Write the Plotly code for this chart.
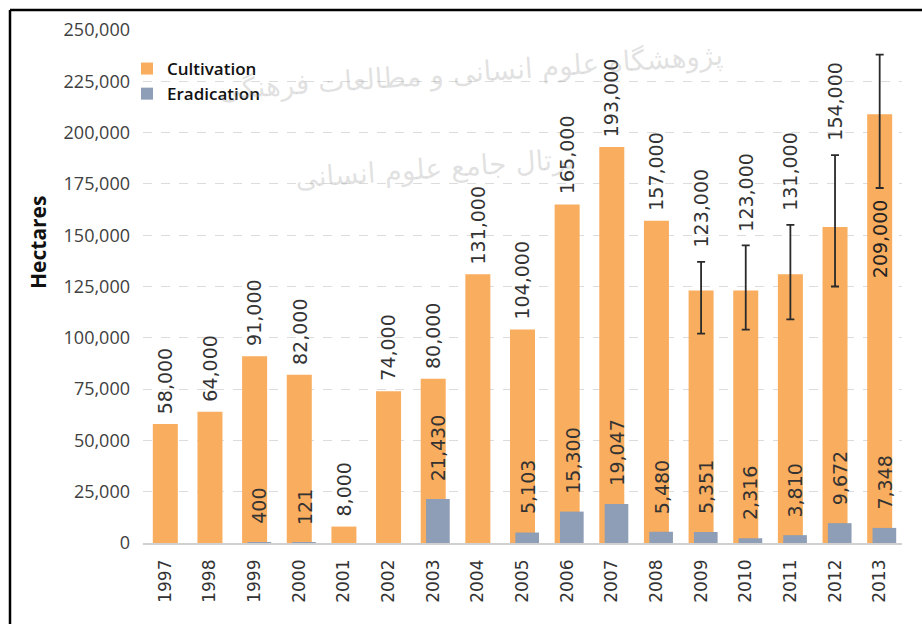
import plotly.graph_objects as go

years = ["1997", "1998", "1999", "2000", "2001", "2002", "2003", "2004", "2005",
         "2006", "2007", "2008", "2009", "2010", "2011", "2012", "2013"]
cultivation = [58000, 64000, 91000, 82000, 8000, 74000, 80000, 131000, 104000,
               165000, 193000, 157000, 123000, 123000, 131000, 154000, 209000]
eradication = [None, None, 400, 121, None, None, 21430, None, 5103,
               15300, 19047, 5480, 5351, 2316, 3810, 9672, 7348]
range_years = ["2009", "2010", "2011", "2012", "2013"]
range_low = [102000, 104000, 109000, 125000, 173000]
range_high = [137000, 145000, 155000, 189000, 238000]
y_ticks = [0, 25000, 50000, 75000, 100000, 125000, 150000, 175000, 200000, 225000, 250000]

ORANGE = "#F9AD5E"
GREY = "#8E9EB6"
W, H = 922, 624
ML, MR, MT, MB = 143, 20, 30, 81
YMAX = 250000

fig = go.Figure()
fig.add_trace(go.Bar(x=years, y=cultivation, name="Cultivation",
                     marker=dict(color=ORANGE, line=dict(width=0)),
                     width=0.56, offset=-0.28))
fig.add_trace(go.Bar(x=years, y=eradication, name="Eradication",
                     marker=dict(color=GREY, line=dict(width=0)),
                     width=0.53, offset=-0.16))

# error bars (range) only for the years that have them
cult_map = dict(zip(years, cultivation))
rv = [cult_map[y] for y in range_years]
fig.add_trace(go.Scatter(
    x=range_years, y=rv, mode="markers", showlegend=False, hoverinfo="skip",
    marker=dict(size=1, color="rgba(0,0,0,0)"),
    error_y=dict(type="data", symmetric=False,
                 array=[h - v for h, v in zip(range_high, rv)],
                 arrayminus=[v - l for v, l in zip(rv, range_low)],
                 color="#2a2a2a", thickness=1.8, width=4)))

annotations = []
lab_font = dict(family="DejaVu Sans", size=19, color="#333333")
hi_map = dict(zip(range_years, range_high))
lo_map = dict(zip(range_years, range_low))
for i, (yr, v) in enumerate(zip(years, cultivation)):
    txt = f"{v:,}"
    if yr in hi_map:
        top = hi_map[yr]
        if top + 45000 > YMAX:
            annotations.append(dict(x=i, y=lo_map[yr], text=txt, showarrow=False,
                                    textangle=-90, yanchor="top", yshift=-9,
                                    font=dict(family="DejaVu Sans", size=19, color="#222222")))
            continue
        annotations.append(dict(x=i, y=top, text=txt, showarrow=False,
                                textangle=-90, yanchor="bottom", yshift=12, font=lab_font))
    else:
        annotations.append(dict(x=i, y=v, text=txt, showarrow=False,
                                textangle=-90, yanchor="bottom", yshift=8, font=lab_font))
for i, v in enumerate(eradication):
    if v is None:
        continue
    annotations.append(dict(x=i, y=v, text=f"{v:,}", showarrow=False,
                            textangle=-90, yanchor="bottom", yshift=16, xshift=5,
                            font=lab_font))

def px_x(px):
    return (px - ML) / (W - ML - MR)

def px_y(py):
    return (H - MB - py) / (H - MT - MB)

# y axis title
annotations.append(dict(xref="paper", yref="paper", x=px_x(38), y=px_y(243),
                        xanchor="center", yanchor="middle",
                        text="<b>Hectares</b>", showarrow=False, textangle=-90,
                        font=dict(family="Open Sans", size=21, color="#111111")))
# faint scanned watermark text
annotations.append(dict(xref="paper", yref="paper", x=px_x(470), y=px_y(72),
                        xanchor="center", yanchor="middle",
                        text="پژوهشگاه علوم انسانی و مطالعات فرهنگی", showarrow=False,
                        textangle=-4, font=dict(family="DejaVu Sans", size=28, color="rgba(150,150,150,0.28)")))
annotations.append(dict(xref="paper", yref="paper", x=px_x(435), y=px_y(168),
                        xanchor="center", yanchor="middle",
                        text="پرتال جامع علوم انسانی", showarrow=False,
                        textangle=-4, font=dict(family="DejaVu Sans", size=28, color="rgba(150,150,150,0.28)")))

shapes = [
    dict(type="line", xref="paper", yref="paper", x0=px_x(10), x1=px_x(W + 2),
         y0=px_y(10), y1=px_y(10), line=dict(color="#000000", width=2.5)),
    dict(type="line", xref="paper", yref="paper", x0=px_x(10), x1=px_x(10),
         y0=px_y(10), y1=px_y(H + 2), line=dict(color="#000000", width=2.5)),
]

fig.update_layout(
    width=W, height=H,
    margin=dict(l=ML, r=MR, t=MT, b=MB),
    paper_bgcolor="white", plot_bgcolor="white",
    barmode="overlay",
    showlegend=True,
    legend=dict(x=px_x(127), y=px_y(51), xanchor="left", yanchor="top",
                bgcolor="rgba(0,0,0,0)", itemwidth=30, tracegroupgap=0,
                font=dict(family="Open Sans", size=17, color="#111111", weight=600)),
    annotations=annotations,
    shapes=shapes,
    xaxis=dict(type="category", range=[-0.5, len(years) - 0.5], tickangle=-90,
               showgrid=False, zeroline=False,
               showline=True, linecolor="#d0d0d0", linewidth=1.5, ticks="",
               ticklabelstandoff=8,
               tickfont=dict(family="DejaVu Sans", size=17, color="#333333")),
    yaxis=dict(range=[0, YMAX], tickvals=y_ticks, tickformat=",d",
               showgrid=True, gridcolor="#dcdcdc", griddash="dash", gridwidth=1,
               zeroline=False, showline=False, ticks="", ticklabelstandoff=12,
               tickfont=dict(family="Open Sans", size=18, color="#404040")),
)

fig.write_html("out.html", config={"displayModeBar": False},
               post_script="document.body.style.margin='0';document.body.style.overflow='hidden';")
